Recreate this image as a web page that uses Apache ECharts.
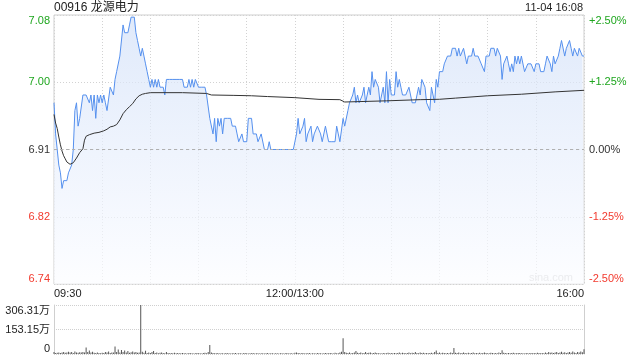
<!DOCTYPE html>
<html>
<head>
<meta charset="utf-8">
<script src="https://cdn.jsdelivr.net/npm/echarts@6/dist/echarts.min.js"></script>
<style>
html,body{margin:0;padding:0;background:#fff;}
#chart{width:640px;height:360px;}
</style>
</head>
<body>
<div id="chart"></div>
<script>
// ---- data ----
const stockTitle = '00916 龙源电力';
const stampText = '11-04 16:08';
const prevClose = 6.91;
const timeLabels = { 0: '09:30', 150: '12:00/13:00', 330: '16:00' };
const priceTickLabels = ['6.74', '6.82', '6.91', '7.00', '7.08'];
const pctTickLabels = ['-2.50%', '-1.25%', '0.00%', '+1.25%', '+2.50%'];
const volTickLabels = ['0', '153.15万', '306.31万'];

// one price per minute of trading (0 = 09:30, 150 = 12:00/13:00, 330 = 16:00)
const price = [
  6.97, 6.93, 6.91, 6.89, 6.88, 6.86, 6.87, 6.87, 6.87, 6.88,
  6.88, 6.89, 6.91, 6.96, 6.97, 6.94, 6.95, 6.95, 6.98, 6.98,
  6.98, 6.98, 6.97, 6.98, 6.96, 6.98, 6.95, 6.98, 6.97, 6.98,
  6.97, 6.98, 6.97, 6.96, 6.96, 6.99, 6.99, 6.98, 7.00, 7.01,
  7.01, 7.03, 7.03, 7.07, 7.06, 7.06, 7.06, 7.07, 7.08, 7.08,
  7.08, 7.06, 7.05, 7.04, 7.03, 7.04, 7.03, 7.02, 7.01, 7.00,
  6.99, 7.00, 6.99, 7.00, 6.99, 7.00, 6.99, 6.99, 6.99, 6.98,
  7.00, 7.00, 7.00, 7.00, 7.00, 7.00, 7.00, 7.00, 7.00, 7.00,
  7.00, 6.99, 6.99, 6.99, 7.00, 6.99, 7.00, 6.99, 7.00, 7.00,
  6.99, 6.99, 6.99, 6.99, 6.99, 6.98, 6.98, 6.95, 6.95, 6.93,
  6.95, 6.92, 6.95, 6.94, 6.95, 6.93, 6.95, 6.95, 6.95, 6.95,
  6.95, 6.94, 6.94, 6.94, 6.93, 6.92, 6.92, 6.93, 6.92, 6.92,
  6.92, 6.95, 6.95, 6.95, 6.93, 6.93, 6.93, 6.92, 6.92, 6.93,
  6.93, 6.91, 6.91, 6.91, 6.92, 6.91, 6.91, 6.91, 6.91, 6.91,
  6.91, 6.91, 6.91, 6.91, 6.91, 6.91, 6.91, 6.91, 6.91, 6.91,
  6.91,
  6.93, 6.95, 6.93, 6.93, 6.94, 6.95, 6.92, 6.93, 6.93, 6.94,
  6.92, 6.93, 6.93, 6.94, 6.94, 6.93, 6.92, 6.92, 6.94, 6.94,
  6.92, 6.92, 6.92, 6.92, 6.92, 6.94, 6.93, 6.92, 6.92, 6.95,
  6.94, 6.94, 6.96, 6.97, 6.97, 6.98, 6.99, 6.97, 6.98, 6.97,
  6.97, 6.98, 6.99, 6.97, 6.98, 6.99, 6.98, 7.01, 6.99, 7.00,
  7.00, 6.99, 6.97, 6.97, 6.99, 6.97, 7.01, 6.97, 7.00, 6.98,
  6.98, 6.98, 7.01, 6.99, 7.00, 6.99, 6.98, 6.98, 6.98, 6.98,
  6.99, 6.98, 6.97, 6.97, 6.97, 6.98, 6.99, 6.98, 7.00, 7.00,
  6.99, 6.97, 6.97, 6.96, 6.99, 6.98, 6.97, 7.00, 6.99, 7.01,
  7.01, 7.01, 7.02, 7.02, 7.03, 7.03, 7.03, 7.04, 7.04, 7.04,
  7.03, 7.04, 7.03, 7.03, 7.04, 7.03, 7.02, 7.03, 7.03, 7.03,
  7.04, 7.03, 7.03, 7.03, 7.03, 7.02, 7.02, 7.01, 7.03, 7.03,
  7.03, 7.04, 7.04, 7.04, 7.03, 7.04, 7.04, 7.03, 7.00, 7.02,
  7.02, 7.03, 7.02, 7.01, 7.02, 7.01, 7.03, 7.02, 7.03, 7.02,
  7.03, 7.03, 7.01, 7.01, 7.02, 7.02, 7.02, 7.02, 7.01, 7.02,
  7.02, 7.02, 7.01, 7.01, 7.01, 7.02, 7.03, 7.03, 7.02, 7.01,
  7.03, 7.02, 7.02, 7.03, 7.04, 7.05, 7.05, 7.03, 7.04, 7.04,
  7.05, 7.04, 7.03, 7.04, 7.04, 7.03, 7.04, 7.04, 7.03, 7.03
];

// average-price line, sampled at these minutes
const avgMinutes = [0, 1, 2, 3, 4, 5, 6, 7, 8, 10, 12, 14, 16, 18, 19, 20, 22, 25, 28, 31, 33, 35, 37, 39, 41, 43, 45, 47, 49, 51, 53, 55, 57, 60, 80, 95, 98, 112, 123, 133, 150, 165, 178, 181, 207, 228, 240, 250, 270, 291, 312, 330];
const avgValues  = [6.955, 6.944, 6.937, 6.926, 6.916, 6.908, 6.902, 6.898, 6.894, 6.891, 6.893, 6.899, 6.906, 6.911, 6.922, 6.927, 6.929, 6.931, 6.932, 6.934, 6.936, 6.939, 6.940, 6.942, 6.948, 6.956, 6.961, 6.965, 6.969, 6.975, 6.979, 6.981, 6.982, 6.983, 6.983, 6.982, 6.980, 6.9795, 6.979, 6.978, 6.9766, 6.9744, 6.974, 6.971, 6.9725, 6.974, 6.9745, 6.976, 6.979, 6.981, 6.984, 6.986];

// volume per minute, in 万
const volume = [
  12, 6, 8, 10, 7, 9, 12, 8, 10, 14,
  9, 12, 7, 15, 10, 8, 11, 9, 13, 10,
  41, 12, 22, 9, 14, 8, 6, 10, 7, 5,
  8, 6, 12, 9, 15, 7, 10, 9, 47, 12,
  28, 10, 25, 12, 22, 9, 18, 8, 11, 15,
  9, 12, 8, 10, 306.31, 14, 8, 20, 6, 9,
  7, 12, 18, 6, 9, 5, 8, 10, 6, 5,
  12, 7, 4, 6, 5, 8, 4, 6, 5, 4,
  6, 4, 5, 3, 6, 4, 5, 3, 4, 6,
  4, 5, 3, 6, 8, 5, 12, 57, 10, 6,
  5, 4, 6, 3, 5, 4, 3, 6, 4, 5,
  3, 5, 4, 6, 3, 4, 5, 3, 4, 6,
  4, 3, 5, 4, 6, 3, 4, 5, 3, 4,
  5, 3, 4, 6, 3, 5, 4, 3, 5, 4,
  3, 4, 5, 3, 4, 6, 3, 4, 5, 3,
  8,
  10, 6, 5, 4, 6, 3, 5, 4, 6, 3,
  5, 4, 3, 6, 4, 5, 3, 4, 6, 5,
  4, 6, 5, 3, 8, 5, 4, 10, 14, 98,
  12, 8, 6, 9, 5, 7, 10, 18, 8, 6,
  9, 5, 7, 12, 6, 8, 10, 5, 7, 9,
  6, 4, 5, 3, 6, 4, 5, 8, 4, 6,
  5, 7, 4, 6, 9, 5, 8, 6, 4, 7,
  10, 5, 8, 6, 12, 7, 5, 9, 6, 8,
  5, 7, 4, 6, 8, 5, 12, 22, 6, 9,
  5, 8, 6, 4, 7, 5, 9, 6, 37, 8,
  6, 9, 5, 7, 10, 6, 4, 8, 5, 7,
  9, 5, 6, 4, 8, 5, 7, 10, 6, 4,
  5, 8, 6, 4, 7, 5, 9, 6, 24, 8,
  6, 5, 7, 4, 6, 8, 5, 4, 6, 7,
  4, 5, 3, 6, 4, 5, 7, 4, 6, 5,
  8, 6, 5, 7, 4, 9, 6, 12, 8, 10,
  6, 9, 12, 7, 10, 14, 8, 11, 6, 9,
  12, 8, 15, 10, 7, 13, 9, 16, 11, 30
];

// ---- chart ----
const FONT = "'Liberation Sans', Arial, 'Noto Sans CJK SC', sans-serif";
const toPct = p => (p / prevClose - 1) * 100;
const priceData = price.map((p, i) => [i, toPct(p)]);
const avgData = avgMinutes.map((m, i) => [m, toPct(avgValues[i])]);
const volData = volume.map((v, i) => [i, v]);
const GREEN = '#1fa61f', RED = '#f23a2e', DARK = '#333';
const pctColor = v => { v = Number(v); return v > 0.01 ? GREEN : (v < -0.01 ? RED : DARK); };

const chart = echarts.init(document.getElementById('chart'), null, { renderer: 'canvas' });
chart.setOption({
  animation: false,
  textStyle: { fontFamily: FONT },
  title: [
    { text: stockTitle, left: 54, top: 2, padding: 0, textStyle: { fontSize: 12, fontWeight: 'normal', color: '#222', fontFamily: FONT } },
    { text: stampText, right: 57, top: 2, padding: 0, textStyle: { fontSize: 11, fontWeight: 'normal', color: '#222', fontFamily: FONT } }
  ],
  graphic: [
    { type: 'text', right: 67, top: 272, style: { text: 'sina.com', fill: '#c8c8c8', font: "11px " + FONT } }
  ],
  grid: [
    { left: 54, right: 56, top: 15, height: 269, show: true, borderColor: '#cfcfcf', borderWidth: 1, backgroundColor: 'transparent' },
    { left: 54, right: 56, top: 305, height: 49 }
  ],
  xAxis: [
    {
      type: 'value', gridIndex: 0, min: 0, max: 330, interval: 30,
      axisLine: { show: false }, axisTick: { show: false },
      splitLine: { show: true, lineStyle: { color: '#d2d2d2', type: [1, 2], width: 1 } },
      axisLabel: {
        show: true, margin: 4, fontSize: 11, color: '#222', fontFamily: FONT,
        alignMinLabel: 'left', alignMaxLabel: 'right',
        formatter: v => timeLabels[v] || ''
      }
    },
    {
      type: 'value', gridIndex: 1, min: 0, max: 330, interval: 30,
      axisLine: { show: false }, axisTick: { show: false },
      splitLine: { show: false }, axisLabel: { show: false }
    }
  ],
  yAxis: [
    {
      type: 'value', gridIndex: 0, min: -2.5, max: 2.5, interval: 1.25,
      axisLine: { show: false }, axisTick: { show: false },
      splitLine: { show: true, lineStyle: { color: '#d2d2d2', type: [1, 2] } },
      axisLabel: {
        margin: 4, fontSize: 11, fontFamily: FONT,
        verticalAlignMinLabel: 'bottom', verticalAlignMaxLabel: 'top',
        color: pctColor,
        formatter: (v, i) => priceTickLabels[i]
      }
    },
    {
      type: 'value', gridIndex: 0, position: 'right', min: -2.5, max: 2.5, interval: 1.25,
      axisLine: { show: false }, axisTick: { show: false }, splitLine: { show: false },
      axisLabel: {
        margin: 5, fontSize: 11, fontFamily: FONT,
        verticalAlignMinLabel: 'bottom', verticalAlignMaxLabel: 'top',
        color: pctColor,
        formatter: (v, i) => pctTickLabels[i]
      }
    },
    {
      type: 'value', gridIndex: 1, min: 0, max: 306.31, interval: 153.155,
      axisLine: { show: true, lineStyle: { color: '#cfcfcf' } }, axisTick: { show: false },
      splitLine: { show: true, lineStyle: { color: '#cfcfcf', type: [1, 1] } },
      axisLabel: {
        margin: 4, fontSize: 11, color: '#222', fontFamily: FONT,
        verticalAlignMinLabel: 'bottom', verticalAlignMaxLabel: 'top',
        formatter: (v, i) => volTickLabels[i]
      }
    },
    {
      type: 'value', gridIndex: 1, position: 'right', min: 0, max: 306.31, interval: 153.155,
      axisLine: { show: true, lineStyle: { color: '#cfcfcf' } }, axisTick: { show: false },
      splitLine: { show: false }, axisLabel: { show: false }
    }
  ],
  series: [
    {
      type: 'line', xAxisIndex: 0, yAxisIndex: 0, data: priceData,
      symbol: 'none', smooth: false,
      lineStyle: { color: '#5590ee', width: 1 },
      areaStyle: {
        origin: 'start',
        color: new echarts.graphic.LinearGradient(0, 15, 0, 284, [
          { offset: 0, color: '#d2e0f8' },
          { offset: 1, color: '#fbfcff' }
        ], true)
      },
      markLine: {
        silent: true, symbol: 'none', label: { show: false },
        lineStyle: { color: '#b0b0b0', type: [3, 3], width: 1 },
        data: [{ yAxis: 0 }]
      },
      z: 2
    },
    {
      type: 'line', xAxisIndex: 0, yAxisIndex: 0, data: avgData,
      symbol: 'none', lineStyle: { color: '#333', width: 1 }, z: 3
    },
    {
      type: 'bar', xAxisIndex: 1, yAxisIndex: 2, data: volData,
      barWidth: 1, itemStyle: { color: '#555' }
    }
  ]
});
</script>
</body>
</html>
